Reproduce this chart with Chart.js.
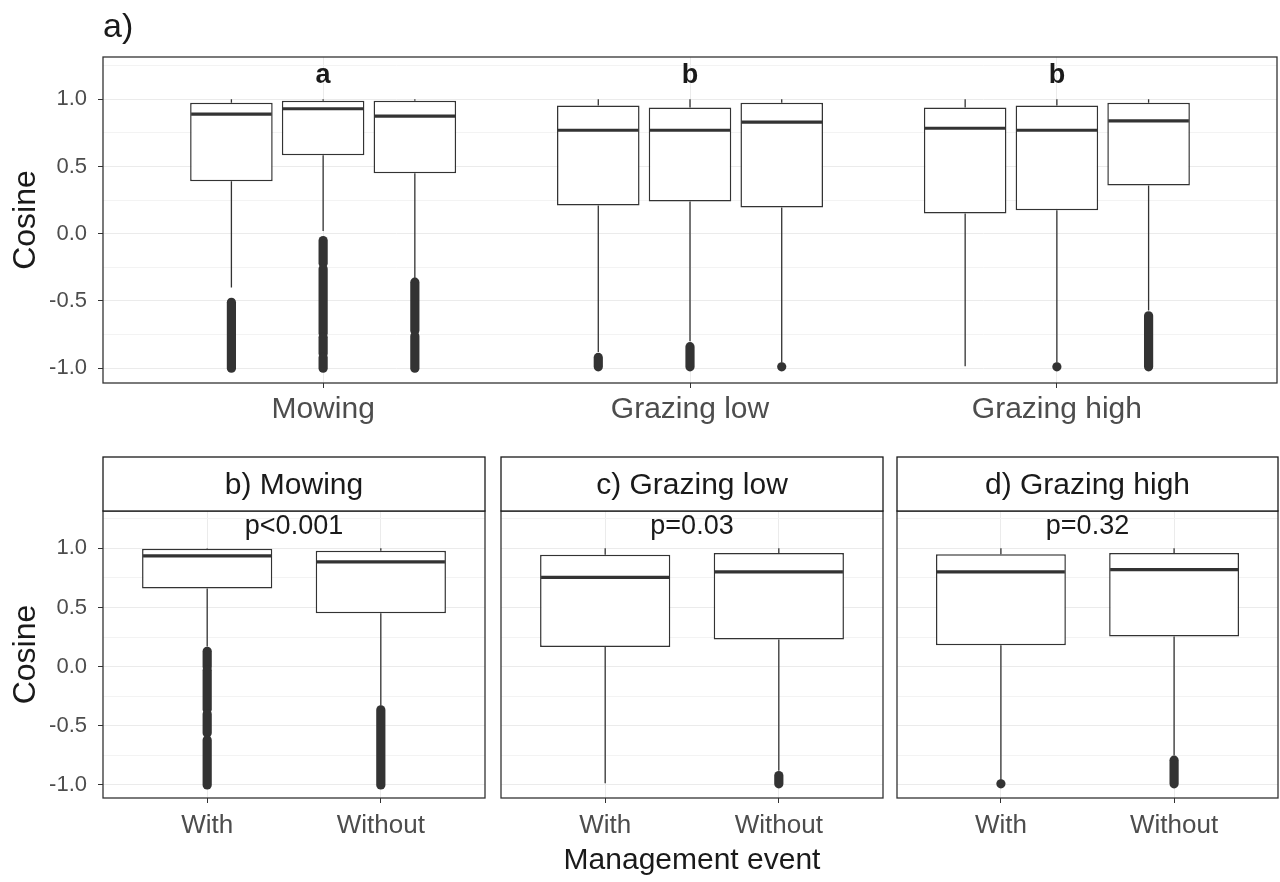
<!DOCTYPE html>
<html lang="en">
<head>
<meta charset="UTF-8">
<title>Cosine by management event</title>
<script src="https://cdn.jsdelivr.net/npm/chart.js"></script>
<style>
  body { margin: 0; background: #fff; }
  .panel { position: absolute; }
</style>
</head>
<body>
<div class="panel" style="left:0;top:0;width:1280px;height:440px"><canvas id="topChart"></canvas></div>
<div class="panel" style="left:0;top:440px;width:490px;height:442px"><canvas id="mowChart"></canvas></div>
<div class="panel" style="left:490px;top:440px;width:400px;height:442px"><canvas id="lowChart"></canvas></div>
<div class="panel" style="left:890px;top:440px;width:390px;height:442px"><canvas id="highChart"></canvas></div>

<script>
// ---- data ----
const groups = ['Mowing', 'Grazing low', 'Grazing high'];
const events = ['With', 'Without'];
const letters = ['a', 'b', 'b'];
const stripLabels = ['b) Mowing', 'c) Grazing low', 'd) Grazing high'];
const pLabels = ['p<0.001', 'p=0.03', 'p=0.32'];
const labelY = 1.18;

const yTicks = [-1, -0.5, 0, 0.5, 1];
const yTickLabels = ['-1.0', '-0.5', '0.0', '0.5', '1.0'];
const yMinor = [-0.75, -0.25, 0.25, 0.75, 1.25];

// top panel: [box within group][group]
const topQ1 = [[0.39, 0.21, 0.15], [0.585, 0.24, 0.175], [0.45, 0.195, 0.36]];
const topMed = [[0.89, 0.77, 0.785], [0.93, 0.77, 0.77], [0.875, 0.83, 0.84]];
const topQ3 = [[0.975, 0.955, 0.94], [0.99, 0.94, 0.955], [0.99, 0.975, 0.975]];
const topHi = [[1, 1, 1], [1, 1, 1], [1, 1, 1]];
const topLo = [[-0.40, -0.88, -0.985], [0.02, -0.80, -0.96], [-0.33, -0.96, -0.57]];
// outlier runs, [upper, lower]
const topOut = [
  [[[-0.51, -1]], [[-0.92, -0.99]], []],
  [[[-0.05, -0.22], [-0.26, -0.74], [-0.77, -0.89], [-0.92, -1]], [[-0.84, -0.99]], [[-0.99, -0.99]]],
  [[[-0.36, -0.72], [-0.76, -1]], [[-0.99, -0.99]], [[-0.61, -0.99]]]
];

// bottom panels: [panel][With, Without]
const botQ1 = [[0.66, 0.45], [0.165, 0.23], [0.18, 0.255]];
const botMed = [[0.935, 0.885], [0.755, 0.80], [0.80, 0.82]];
const botQ3 = [[0.995, 0.98], [0.945, 0.96], [0.95, 0.96]];
const botHi = [[1, 1], [1, 1], [1, 1]];
const botLo = [[0.17, -0.33], [-0.985, -0.88], [-0.97, -0.75]];
const botOut = [
  [[[0.13, 0.0], [-0.03, -0.36], [-0.40, -0.56], [-0.62, -1]], [[-0.365, -1]]],
  [[], [[-0.92, -0.99]]],
  [[[-0.99, -0.99]], [[-0.79, -0.99]]]
];

// ---- styling ----
const FONT = '"Liberation Sans", Arial, sans-serif';
const ink = '#333333';
const dark = '#1a1a1a';
const tickText = '#4d4d4d';
Chart.defaults.font.family = FONT;

// whiskers, medians and outliers on top of the floating bars
const boxParts = {
  id: 'boxParts',
  afterDatasetsDraw(chart) {
    const ctx = chart.ctx;
    const y = chart.scales.y;
    chart.data.datasets.forEach((ds, di) => {
      chart.getDatasetMeta(di).data.forEach((bar, i) => {
        const x = bar.x;
        const half = bar.width / 2;
        const [q1, q3] = ds.data[i].y;
        ctx.save();
        ctx.strokeStyle = ink;
        ctx.lineWidth = 1.3;
        ctx.beginPath();
        ctx.moveTo(x, y.getPixelForValue(q3));
        ctx.lineTo(x, y.getPixelForValue(ds.hi[i]));
        ctx.moveTo(x, y.getPixelForValue(q1));
        ctx.lineTo(x, y.getPixelForValue(ds.lo[i]));
        ctx.stroke();

        ctx.lineWidth = 3.2;
        const ym = y.getPixelForValue(ds.med[i]);
        ctx.beginPath();
        ctx.moveTo(x - half + 1, ym);
        ctx.lineTo(x + half - 1, ym);
        ctx.stroke();

        ctx.fillStyle = ink;
        const r = 4.6;
        ds.out[i].forEach(([a, b]) => {
          const ya = y.getPixelForValue(a);
          const yb = y.getPixelForValue(b);
          ctx.beginPath();
          ctx.arc(x, ya, r, Math.PI, 0);
          ctx.arc(x, yb, r, 0, Math.PI);
          ctx.closePath();
          ctx.fill();
        });
        ctx.restore();
      });
    });
  }
};

// panel frame, strips and annotations
const frame = {
  id: 'frame',
  afterDraw(chart, args, opts) {
    const ctx = chart.ctx;
    const a = chart.chartArea;
    const xs = chart.scales.x, ys = chart.scales.y;
    ctx.save();
    ctx.strokeStyle = ink;
    ctx.lineWidth = 1.3;
    ctx.strokeRect(a.left, a.top, a.right - a.left, a.bottom - a.top);
    ctx.fillStyle = dark;
    ctx.textAlign = 'center';
    ctx.textBaseline = 'middle';
    if (opts.title) {
      ctx.textAlign = 'left';
      ctx.font = '34px ' + FONT;
      ctx.fillText(opts.title, a.left, 28);
      ctx.textAlign = 'center';
    }
    if (opts.letters) {
      ctx.font = 'bold 27px ' + FONT;
      opts.letters.forEach((t, i) => ctx.fillText(t, xs.getPixelForValue(i + 1), ys.getPixelForValue(labelY)));
    }
    if (opts.strip) {
      const h = 54;
      ctx.fillStyle = '#fff';
      ctx.fillRect(a.left, a.top - h, a.right - a.left, h);
      ctx.strokeStyle = dark;
      ctx.strokeRect(a.left, a.top - h, a.right - a.left, h);
      ctx.fillStyle = dark;
      ctx.font = '30px ' + FONT;
      ctx.fillText(opts.strip, (a.left + a.right) / 2, a.top - h / 2 + 2);
    }
    if (opts.note) {
      ctx.font = '27px ' + FONT;
      ctx.fillText(opts.note, xs.getPixelForValue(1.5), ys.getPixelForValue(labelY));
    }
    ctx.restore();
  }
};

function yScale(showLabels, width, titleText) {
  return {
    type: 'linear',
    min: -1.11,
    max: 1.315,
    afterBuildTicks: s => { s.ticks = yTicks.concat(yMinor).sort((p, q) => p - q).map(v => ({ value: v })); },
    afterFit: s => { s.width = width; },
    border: { display: false },
    grid: {
      color: c => yTicks.includes(c.tick.value) ? '#ebebeb' : '#f3f3f3',
      tickColor: c => yTicks.includes(c.tick.value) ? ink : 'rgba(0,0,0,0)',
      tickLength: showLabels ? 5 : 0,
      drawTicks: showLabels,
      lineWidth: 1
    },
    ticks: {
      display: showLabels,
      padding: 11,
      color: tickText,
      font: { size: 22 },
      callback: v => { const k = yTicks.indexOf(v); return k >= 0 ? yTickLabels[k] : ''; }
    },
    title: {
      display: !!titleText,
      text: titleText || '',
      color: dark,
      font: { size: 32 },
      padding: { top: 7, bottom: 0 }
    }
  };
}

function xScale(cats, height, fontSize, pad, titleText) {
  return {
    type: 'linear',
    min: 0.4,
    max: cats.length + 0.6,
    offset: false,
    afterBuildTicks: s => { s.ticks = cats.map((c, i) => ({ value: i + 1 })); },
    afterFit: s => { s.height = height; },
    border: { display: false },
    grid: { offset: false, color: '#ebebeb', tickColor: ink, tickLength: 5 },
    ticks: {
      autoSkip: false,
      maxRotation: 0,
      padding: pad,
      color: tickText,
      font: { size: fontSize },
      callback: v => cats[v - 1]
    },
    title: {
      display: !!titleText,
      text: titleText || '',
      color: dark,
      font: { size: 30 },
      padding: { top: 0, bottom: 3 }
    }
  };
}

function boxDataset(q1, q3, med, hi, lo, out, xs) {
  return {
    data: xs.map((x, i) => ({ x: x, y: [q1[i], q3[i]] })),
    med: med, hi: hi, lo: lo, out: out,
    backgroundColor: '#ffffff',
    borderColor: ink,
    borderWidth: 1.5,
    borderSkipped: false,
    categoryPercentage: 0.75,
    barPercentage: 0.9
  };
}

const baseOptions = {
  responsive: true,
  maintainAspectRatio: false,
  animation: false,
  events: []
};

// ---- a) all three management types ----
new Chart(document.getElementById('topChart'), {
  type: 'bar',
  data: {
    datasets: topQ1.map((q1, k) => boxDataset(q1, topQ3[k], topMed[k], topHi[k], topLo[k], topOut[k], [1, 2, 3]))
  },
  options: Object.assign({}, baseOptions, {
    layout: { padding: { left: 0, right: 3, top: 57, bottom: 0 } },
    scales: {
      x: xScale(groups, 57, 30, 4),
      y: yScale(true, 103, 'Cosine')
    },
    plugins: {
      legend: { display: false },
      tooltip: { enabled: false },
      frame: { title: 'a)', letters: letters }
    }
  }),
  plugins: [boxParts, frame]
});

// ---- b), c), d) with / without management event ----
const facets = [
  { id: 'mowChart', left: 0, right: 5, yWidth: 103, yTitle: 'Cosine' },
  { id: 'lowChart', left: 11, right: 7, yWidth: 0, xTitle: 'Management event' },
  { id: 'highChart', left: 7, right: 2, yWidth: 0 }
];

facets.forEach((f, p) => {
  const ds = boxDataset(botQ1[p], botQ3[p], botMed[p], botHi[p], botLo[p], botOut[p], [1, 2]);
  ds.barPercentage = 1;
  new Chart(document.getElementById(f.id), {
    type: 'bar',
    data: { datasets: [ds] },
    options: Object.assign({}, baseOptions, {
      layout: { padding: { left: f.left, right: f.right, top: 71, bottom: 0 } },
      scales: {
        x: xScale(events, 84, 26, 7, f.xTitle),
        y: yScale(p === 0, f.yWidth, f.yTitle)
      },
      plugins: {
        legend: { display: false },
        tooltip: { enabled: false },
        frame: { strip: stripLabels[p], note: pLabels[p] }
      }
    }),
    plugins: [boxParts, frame]
  });
});
</script>
</body>
</html>
